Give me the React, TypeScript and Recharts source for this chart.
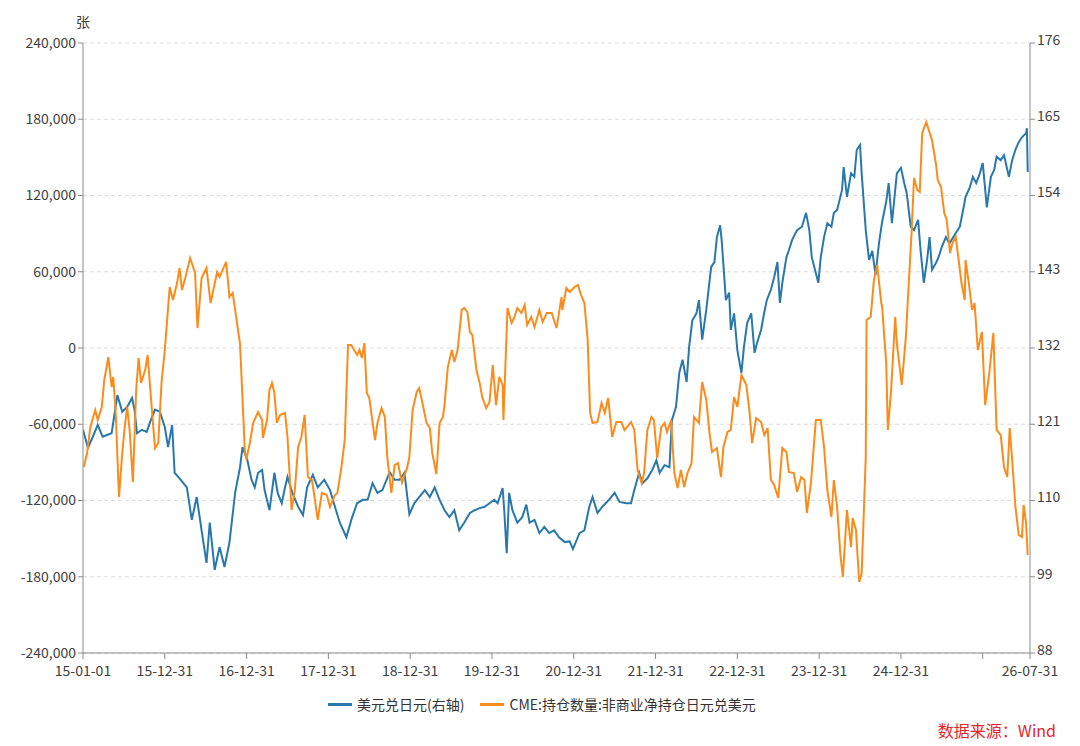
import React from "react";
import { LineChart, Line, XAxis, YAxis, CartesianGrid } from "recharts";

// USD/JPY (right axis), time as decimal year
const usdJpyT = [
  2015.00, 2015.06, 2015.12, 2015.18, 2015.24, 2015.35, 2015.42, 2015.48, 2015.54, 2015.60,
  2015.63, 2015.66, 2015.72, 2015.78, 2015.82, 2015.88, 2015.94, 2016.00, 2016.04, 2016.09,
  2016.12, 2016.18, 2016.27, 2016.33, 2016.39, 2016.45, 2016.51, 2016.55, 2016.61, 2016.67,
  2016.73, 2016.79, 2016.86, 2016.92, 2016.95, 2017.01, 2017.06, 2017.10, 2017.14, 2017.19,
  2017.22, 2017.28, 2017.34, 2017.38, 2017.43, 2017.47, 2017.50, 2017.56, 2017.63, 2017.69,
  2017.74, 2017.81, 2017.87, 2017.95, 2018.02, 2018.08, 2018.14, 2018.22, 2018.28, 2018.35,
  2018.42, 2018.48, 2018.54, 2018.60, 2018.66, 2018.75, 2018.81, 2018.87, 2018.93, 2018.99,
  2019.05, 2019.11, 2019.18, 2019.24, 2019.30, 2019.36, 2019.42, 2019.48, 2019.54, 2019.60,
  2019.66, 2019.73, 2019.79, 2019.85, 2019.91, 2019.97, 2020.03, 2020.07, 2020.13, 2020.15,
  2020.18, 2020.21, 2020.25, 2020.31, 2020.37, 2020.42, 2020.46, 2020.52, 2020.58, 2020.64,
  2020.70, 2020.76, 2020.82, 2020.89, 2020.95, 2020.99, 2021.07, 2021.13, 2021.19, 2021.23,
  2021.29, 2021.35, 2021.43, 2021.50, 2021.56, 2021.64, 2021.70, 2021.74, 2021.80, 2021.84,
  2021.90, 2021.96, 2022.01, 2022.05, 2022.11, 2022.17, 2022.20, 2022.25, 2022.29, 2022.33,
  2022.38, 2022.41, 2022.45, 2022.50, 2022.53, 2022.57, 2022.62, 2022.68, 2022.72, 2022.75,
  2022.79, 2022.81, 2022.86, 2022.90, 2022.92, 2022.96, 2023.00, 2023.05, 2023.08, 2023.12,
  2023.17, 2023.21, 2023.24, 2023.29, 2023.33, 2023.36, 2023.41, 2023.45, 2023.49, 2023.52,
  2023.55, 2023.60, 2023.63, 2023.67, 2023.73, 2023.79, 2023.84, 2023.88, 2023.91, 2023.96,
  2023.99, 2024.02, 2024.06, 2024.10, 2024.15, 2024.18, 2024.22, 2024.28, 2024.30, 2024.34,
  2024.39, 2024.43, 2024.46, 2024.50, 2024.52, 2024.57, 2024.61, 2024.65, 2024.69, 2024.73,
  2024.77, 2024.82, 2024.85, 2024.89, 2024.95, 2025.00, 2025.04, 2025.07, 2025.12, 2025.16,
  2025.21, 2025.24, 2025.28, 2025.32, 2025.35, 2025.38, 2025.43, 2025.46, 2025.50, 2025.55,
  2025.59, 2025.62, 2025.67, 2025.72, 2025.76, 2025.79, 2025.84, 2025.88, 2025.92, 2025.96,
  2026.00, 2026.05, 2026.10, 2026.14, 2026.17, 2026.22, 2026.26, 2026.32, 2026.36, 2026.40,
  2026.44, 2026.48, 2026.53, 2026.54, 2026.55,
];
const usdJpyV = [
  120.2, 117.6, 119.2, 120.9, 119.2, 119.7, 125.2, 122.8, 123.5, 124.8,
  123.1, 119.7, 120.2, 119.9, 121.3, 123.1, 122.8, 120.6, 117.7, 120.9,
  114.0, 113.2, 111.9, 107.2, 110.5, 105.7, 101.0, 106.8, 100.0, 103.3,
  100.4, 103.9, 111.1, 114.8, 117.7, 115.8, 113.0, 111.9, 114.0, 114.4,
  111.5, 108.6, 114.0, 111.1, 109.6, 111.9, 113.4, 111.1, 109.1, 107.9,
  111.9, 113.7, 111.9, 113.0, 111.5, 109.1, 106.8, 104.7, 107.2, 109.6,
  110.1, 110.1, 112.5, 111.1, 111.5, 114.1, 113.0, 113.0, 114.0, 108.0,
  109.6, 110.5, 111.5, 110.5, 111.9, 110.1, 108.6, 107.6, 108.6, 105.7,
  106.8, 108.2, 108.6, 108.9, 109.1, 109.6, 110.1, 109.6, 111.8, 108.6,
  102.4, 111.1, 108.6, 106.8, 107.6, 109.4, 106.8, 107.2, 105.3, 106.2,
  105.3, 105.7, 104.7, 104.0, 104.1, 103.0, 105.3, 105.7, 109.1, 110.5,
  108.2, 109.1, 110.1, 111.1, 109.8, 109.6, 109.6, 111.5, 114.0, 112.5,
  113.2, 114.4, 115.8, 114.0, 115.1, 114.8, 121.6, 123.5, 128.4, 130.3,
  127.1, 132.1, 136.0, 137.0, 138.9, 133.2, 137.5, 143.7, 144.4, 148.0,
  149.7, 147.3, 138.9, 140.0, 134.6, 137.0, 131.7, 128.4, 132.1, 135.6,
  137.0, 131.3, 132.7, 134.6, 137.2, 138.9, 140.4, 142.2, 144.4, 138.5,
  141.4, 145.1, 146.1, 147.6, 149.0, 149.5, 151.5, 149.0, 145.1, 142.8,
  141.4, 145.1, 148.0, 150.0, 149.5, 151.5, 151.9, 154.8, 158.1, 153.8,
  157.2, 156.7, 160.6, 161.3, 157.2, 149.0, 144.7, 146.0, 142.5, 147.0,
  150.2, 153.1, 155.8, 150.0, 157.2, 158.0, 155.8, 154.4, 149.5, 149.0,
  150.5, 146.1, 141.4, 144.7, 148.0, 143.3, 144.3, 145.1, 146.6, 148.0,
  147.1, 147.6, 148.6, 149.5, 151.9, 153.8, 155.1, 156.7, 155.8, 157.0,
  158.7, 152.3, 156.7, 157.7, 159.6, 159.1, 159.8, 156.7, 159.1, 160.6,
  161.7, 162.4, 163.0, 163.7, 157.4,
];

// CME non-commercial net JPY positions (left axis, contracts)
const cmeT = [
  2015.01, 2015.05, 2015.09, 2015.15, 2015.18, 2015.23, 2015.26, 2015.31, 2015.35, 2015.37,
  2015.40, 2015.44, 2015.48, 2015.51, 2015.54, 2015.57, 2015.61, 2015.65, 2015.68, 2015.71,
  2015.76, 2015.79, 2015.83, 2015.88, 2015.92, 2015.96, 2016.00, 2016.06, 2016.10, 2016.15,
  2016.18, 2016.21, 2016.25, 2016.31, 2016.37, 2016.40, 2016.45, 2016.51, 2016.56, 2016.64,
  2016.67, 2016.75, 2016.79, 2016.83, 2016.92, 2016.98, 2017.00, 2017.04, 2017.08, 2017.14,
  2017.19, 2017.20, 2017.25, 2017.28, 2017.31, 2017.34, 2017.37, 2017.41, 2017.47, 2017.50,
  2017.55, 2017.59, 2017.63, 2017.67, 2017.71, 2017.75, 2017.80, 2017.83, 2017.87, 2017.92,
  2017.98, 2018.02, 2018.08, 2018.11, 2018.16, 2018.20, 2018.24, 2018.28, 2018.35, 2018.38,
  2018.41, 2018.44, 2018.47, 2018.50, 2018.57, 2018.60, 2018.65, 2018.69, 2018.72, 2018.77,
  2018.81, 2018.85, 2018.90, 2018.93, 2018.96, 2018.99, 2019.03, 2019.08, 2019.11, 2019.15,
  2019.20, 2019.24, 2019.27, 2019.32, 2019.36, 2019.40, 2019.42, 2019.46, 2019.51, 2019.54,
  2019.58, 2019.63, 2019.66, 2019.70, 2019.73, 2019.76, 2019.81, 2019.85, 2019.88, 2019.93,
  2019.97, 2020.01, 2020.05, 2020.09, 2020.13, 2020.14, 2020.19, 2020.24, 2020.27, 2020.31,
  2020.36, 2020.40, 2020.43, 2020.48, 2020.52, 2020.58, 2020.62, 2020.67, 2020.73, 2020.79,
  2020.85, 2020.86, 2020.91, 2020.95, 2021.01, 2021.05, 2021.09, 2021.13, 2021.17, 2021.20,
  2021.23, 2021.29, 2021.34, 2021.38, 2021.42, 2021.47, 2021.52, 2021.58, 2021.62, 2021.65,
  2021.70, 2021.74, 2021.78, 2021.83, 2021.86, 2021.90, 2021.95, 2021.98, 2022.02, 2022.07,
  2022.11, 2022.14, 2022.19, 2022.23, 2022.27, 2022.31, 2022.35, 2022.39, 2022.44, 2022.47,
  2022.53, 2022.57, 2022.62, 2022.66, 2022.69, 2022.75, 2022.80, 2022.83, 2022.88, 2022.92,
  2022.96, 2023.00, 2023.05, 2023.11, 2023.15, 2023.18, 2023.23, 2023.29, 2023.33, 2023.37,
  2023.41, 2023.45, 2023.50, 2023.55, 2023.60, 2023.63, 2023.69, 2023.73, 2023.78, 2023.82,
  2023.85, 2023.90, 2023.96, 2024.02, 2024.06, 2024.10, 2024.15, 2024.18, 2024.22, 2024.26,
  2024.29, 2024.34, 2024.39, 2024.41, 2024.45, 2024.49, 2024.52, 2024.57, 2024.58, 2024.63,
  2024.67, 2024.71, 2024.76, 2024.77, 2024.82, 2024.84, 2024.88, 2024.93, 2024.95, 2025.01,
  2025.06, 2025.10, 2025.13, 2025.16, 2025.20, 2025.23, 2025.26, 2025.31, 2025.34, 2025.38,
  2025.43, 2025.45, 2025.49, 2025.53, 2025.56, 2025.60, 2025.63, 2025.67, 2025.71, 2025.74,
  2025.78, 2025.79, 2025.83, 2025.87, 2025.90, 2025.94, 2025.99, 2026.03, 2026.08, 2026.13,
  2026.17, 2026.22, 2026.26, 2026.30, 2026.33, 2026.36, 2026.40, 2026.44, 2026.48, 2026.50,
  2026.53, 2026.55,
];
const cmeV = [
  -93600, -82600, -62200, -48800, -56700, -46400, -25200, -7100, -30700, -22800,
  -51100, -117200, -82600, -62200, -46400, -64500, -105400, -33000, -7900, -27500,
  -17300, -5500, -38600, -78700, -74800, -27500, -1600, 48000, 37800, 51100,
  62900, 45600, 55100, 70800, 59000, 15700, 55100, 62900, 35400, 59800,
  55900, 67700, 40100, 43300, 3000, -82600, -86600, -74800, -59000, -50400,
  -56700, -70800, -56700, -33000, -27500, -35400, -59000, -52700, -51100, -70000,
  -127500, -111700, -77900, -70000, -52700, -101500, -103900, -117200, -135300, -114100,
  -115700, -125100, -115700, -114100, -93600, -72400, 2400, 2400, -5500, -1600,
  -7900, 3900, -35400, -39300, -72400, -59000, -47200, -54300, -85800, -114100,
  -92100, -90500, -106000, -100000, -95000, -85800, -48800, -34600, -31500, -43300,
  -59000, -63000, -82600, -99100, -59000, -54300, -44900, -15000, -1600, -11000,
  -1600, 29900, 31500, 28300, 12600, 10200, -17300, -27500, -38600, -47200,
  -42500, -13400, -44900, -22800, -29100, -56700, 31500, 19700, 23600, 31500,
  27500, 33800, 18100, 24400, 16500, 29900, 20500, 27500, 27500, 15700,
  40100, 29900, 47200, 44100, 48000, 49600, 41700, 35400, 6300, -51100,
  -59000, -58200, -43300, -51100, -39300, -70000, -58200, -58200, -64500, -62200,
  -58200, -64500, -96000, -106200, -98400, -64500, -54300, -56700, -86600, -62200,
  -59000, -66100, -56700, -98400, -110200, -96000, -109400, -98400, -90500, -54300,
  -59000, -26800, -40900, -66900, -81800, -78700, -101500, -77900, -66100, -64500,
  -38600, -46400, -21200, -29100, -51100, -74800, -55100, -58200, -68500, -63000,
  -103900, -107800, -118000, -78700, -81800, -97600, -98400, -113300, -101500, -103900,
  -129800, -106200, -56700, -56700, -77900, -111700, -133000, -103900, -125100, -162900,
  -180200, -127500, -156600, -133800, -143200, -184100, -177100, -85800, 22000, 24400,
  53500, 65300, 35400, 32300, -11800, -64500, -33000, 24400, 3900, -29100,
  8700, 55900, 90500, 133800, 124300, 122800, 169200, 177800, 171500, 163700,
  144000, 132200, 126700, 106200, 100700, 74800, 82600, 87300, 66900, 51100,
  37800, 69200, 51100, 29900, 35400, -1600, 12600, -44900, -19700, 11800,
  -64500, -68500, -93600, -101500, -63000, -88100, -125100, -147100, -148700, -123500,
  -137700, -162900,
];

const xTicks = [2015, 2016, 2017, 2018, 2019, 2020, 2021, 2022, 2023, 2024, 2025, 2026, 2026.578];
const xTickLabels = [
  "15-01-01", "15-12-31", "16-12-31", "17-12-31", "18-12-31", "19-12-31", "20-12-31",
  "21-12-31", "22-12-31", "23-12-31", "24-12-31", "", "26-07-31",
];
const leftTicks = [-240000, -180000, -120000, -60000, 0, 60000, 120000, 180000, 240000];
const rightTicks = [88, 99, 110, 121, 132, 143, 154, 165, 176];

const usdJpy = usdJpyT.map((t, i) => ({ t, v: usdJpyV[i] }));
const cme = cmeT.map((t, i) => ({ t, v: cmeV[i] }));

const FONT = '"Noto Sans CJK SC", "Noto Sans", sans-serif';
const BLUE = "#2878ac";
const ORANGE = "#fb8c1c";
const AXIS = "#8c8c8c";
const TEXT = "#404040";

const fmtLeft = (v: number) => v.toLocaleString("en-US");
const fmtX = (v: number) => {
  const i = xTicks.indexOf(v);
  return i >= 0 ? xTickLabels[i] : "";
};

export default function App() {
  return (
    <div style={{ position: "absolute", left: 0, top: 0, width: 1080, height: 746, background: "#fff", fontFamily: FONT }}>
      <LineChart width={1080} height={746} margin={{ top: 43, right: 0, bottom: 63, left: 0 }}>
        <CartesianGrid yAxisId="left" vertical={false} stroke="#dcdcdc" strokeDasharray="4 3" />
        <XAxis
          dataKey="t"
          type="number"
          domain={[2015, 2026.578]}
          ticks={xTicks}
          tickFormatter={fmtX}
          interval={0}
          allowDataOverflow
          height={30}
          tickSize={6}
          tickMargin={7}
          stroke={AXIS}
          tick={{ fill: TEXT, fontSize: 14, fontFamily: FONT }}
        />
        <YAxis
          yAxisId="left"
          width={83}
          domain={[-240000, 240000]}
          ticks={leftTicks}
          tickFormatter={fmtLeft}
          interval={0}
          tickSize={5}
          stroke={AXIS}
          tick={{ fill: TEXT, fontSize: 14, fontFamily: FONT }}
          label={{
            content: (p: any) => (
              <text
                x={p.viewBox.x + p.viewBox.width}
                y={27}
                textAnchor="middle"
                fill={TEXT}
                fontSize={14}
                fontFamily={FONT}
              >
                张
              </text>
            ),
          }}
        />
        <YAxis
          yAxisId="right"
          orientation="right"
          width={50}
          domain={[88, 176]}
          ticks={rightTicks}
          interval={0}
          tickSize={5}
          stroke={AXIS}
          tick={{ fill: TEXT, fontSize: 14, fontFamily: FONT, dy: -3 }}
        />
        <Line
          yAxisId="right"
          data={usdJpy}
          dataKey="v"
          stroke={BLUE}
          strokeWidth={2}
          dot={false}
          isAnimationActive={false}
        />
        <Line
          yAxisId="left"
          data={cme}
          dataKey="v"
          stroke={ORANGE}
          strokeWidth={2}
          dot={false}
          isAnimationActive={false}
        />
      </LineChart>
      <div
        style={{
          position: "absolute",
          left: 328,
          top: 694,
          display: "flex",
          alignItems: "center",
          fontSize: 14,
          color: "#333",
          whiteSpace: "nowrap",
        }}
      >
        <span style={{ display: "inline-block", width: 24, height: 3, background: BLUE, marginRight: 5 }} />
        <span>美元兑日元(右轴)</span>
        <span style={{ display: "inline-block", width: 24, height: 3, background: ORANGE, marginLeft: 16, marginRight: 5 }} />
        <span>CME:持仓数量:非商业净持仓日元兑美元</span>
      </div>
      <div
        style={{
          position: "absolute",
          right: 24,
          top: 718,
          fontSize: 16,
          color: "#e3262b",
          whiteSpace: "nowrap",
        }}
      >
        数据来源：Wind
      </div>
    </div>
  );
}
